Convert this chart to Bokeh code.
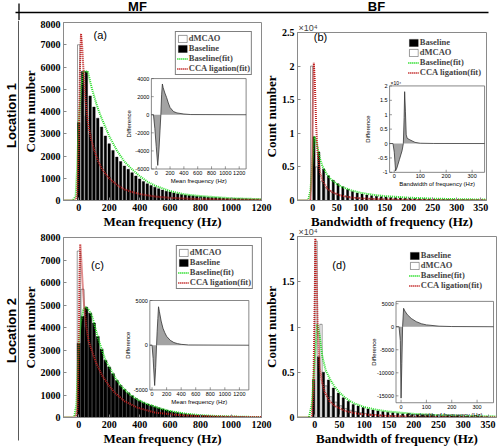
import math
from bokeh.plotting import figure
from bokeh.models import (Range1d, Legend, LegendItem, CustomJSTickFormatter, FixedTicker,
                          ColumnDataSource)
from bokeh.layouts import column, row
from bokeh.transform import dodge
from bokeh.core.properties import value
from bokeh.embed import file_html
from bokeh.resources import INLINE

SERIF = "Liberation Serif"
SANS = "Liberation Sans"
GREEN = "#22dd22"
RED = "#c02020"

# ---------------- data ----------------
mf_bins = list(range(0, 1201, 25))
bf_bins = list(range(0, 351, 10))

a_baseline = [3500, 5800, 5800, 4700, 4200, 3700, 3300, 2900, 2550, 2250, 1950, 1750, 1550, 1400, 1250, 1100,
              970, 850, 750, 670, 600, 530, 470, 420, 380, 340, 300, 270, 250, 230, 210, 195, 180, 165, 150,
              140, 130, 120, 110, 100, 95, 90, 85, 80, 75, 70, 65, 60, 55]
a_dmcao = [7000, 5200, 3800, 3000, 2400, 1900, 1550, 1250, 1050, 880, 750, 640, 550, 480, 420, 370, 330, 290,
           260, 235, 210, 190, 170, 155, 140, 128, 116, 106, 97, 89, 82, 76, 70, 65, 60, 56, 52, 48, 45, 42,
           39, 36, 34, 32, 30, 28, 26, 24, 22]
a_fit_base_x = [-100, -40, -20, -10, 0, 15, 30, 45, 60, 80, 100, 125, 150, 175, 200, 250, 300, 350, 400, 450,
                500, 600, 700, 800, 900, 1000, 1100, 1200]
a_fit_base_y = [0, 0, 200, 1500, 3500, 5000, 5800, 5800, 5800, 5200, 4700, 4150, 3700, 3300, 2900, 2250, 1750,
                1400, 1100, 850, 670, 420, 270, 200, 150, 100, 80, 60]
a_fit_cca_x = [-100, -20, -10, 0, 8, 15, 22, 30, 45, 60, 80, 100, 125, 150, 175, 200, 250, 300, 350, 400, 500,
               600, 800, 1000, 1200]
a_fit_cca_y = [0, 0, 300, 2500, 6000, 7500, 7000, 6000, 4500, 3500, 2800, 2300, 1800, 1450, 1200, 1000, 700,
               500, 380, 290, 180, 120, 60, 40, 30]
a_diff_x = [-70, -40, -20, 0, 22, 40, 55, 67, 78, 89, 100, 125, 150, 175, 200, 250, 300, 400, 500, 1300]
a_diff_y = [0, 0, -1500, -3500, -5600, -3800, -1700, 0, 2200, 3400, 3000, 2400, 1900, 1300, 800, 350, 200, 80,
            20, 0]

b_baseline = [9500, 7200, 4700, 3700, 3000, 2500, 2050, 1650, 1350, 1100, 950, 820, 720, 640, 570, 510, 460,
              420, 380, 350, 320, 290, 270, 250, 230, 210, 195, 180, 170, 160, 150, 140, 130, 120, 110, 100]
b_dmcao = [20000, 5000, 2800, 1900, 1400, 1050, 800, 650, 530, 440, 370, 310, 270, 240, 210, 190, 170, 150,
           135, 120, 110, 100, 90, 80, 75, 70, 65, 60, 55, 50, 45, 42, 40, 38, 35, 30]
b_fit_base_x = [-32, -10, -5, 0, 3, 6, 10, 15, 20, 30, 40, 50, 60, 80, 100, 125, 150, 200, 250, 300, 350, 362]
b_fit_base_y = [0, 0, 1500, 6500, 9500, 9000, 7800, 6200, 5100, 3800, 3000, 2450, 2050, 1500, 1150, 850, 650,
                420, 280, 200, 150, 140]
b_fit_cca_x = [-32, -5, -2, 0, 2, 4, 7, 10, 15, 20, 30, 40, 60, 80, 100, 150, 200, 300, 362]
b_fit_cca_y = [0, 0, 4000, 14000, 20500, 18000, 11000, 7000, 4200, 3000, 1800, 1250, 700, 450, 320, 160, 90,
               40, 30]
b_diff_x = [-18, -5, 0, 5, 10, 20, 30, 35, 38, 40, 43, 46, 50, 60, 80, 100, 150, 348]
b_diff_y = [0, 0, -3000, -9500, -8500, -5500, -2500, 0, 9000, 18000, 11000, 3000, 1800, 1300, 400, 100, 20, 0]

c_baseline = [3300, 4500, 4900, 4650, 4200, 3600, 3050, 2550, 2250, 1950, 1650, 1420, 1250, 1100, 970, 850,
              750, 670, 600, 540, 480, 430, 380, 330, 290, 250, 220, 190, 165, 145, 125, 110, 100, 90, 80, 72,
              65, 58, 52, 47, 42, 38, 34, 30, 27, 24, 22, 20, 18]
c_dmcao = [7400, 5700, 4000, 3200, 2700, 2300, 1950, 1650, 1400, 1180, 1000, 860, 740, 640, 560, 490, 430, 380,
           335, 295, 260, 230, 205, 180, 160, 140, 125, 110, 100, 90, 80, 72, 65, 58, 52, 47, 42, 38, 34, 30,
           27, 24, 22, 20, 18, 16, 15, 14, 13]
c_fit_base_x = [-100, -30, -15, 0, 15, 30, 48, 70, 90, 110, 133, 155, 175, 200, 217, 250, 280, 330, 385, 440,
                490, 540, 596, 700, 806, 900, 1000, 1100, 1200]
c_fit_base_y = [0, 0, 600, 3300, 4300, 4800, 4900, 4750, 4450, 3950, 3400, 2950, 2550, 2250, 2040, 1650, 1380,
                1050, 800, 620, 510, 390, 290, 170, 100, 70, 45, 30, 20]
c_fit_cca_x = [-100, -20, -8, 0, 5, 10, 15, 25, 35, 50, 65, 90, 110, 133, 155, 175, 200, 238, 300, 385, 500,
               650, 800, 1000, 1200]
c_fit_cca_y = [0, 0, 400, 3500, 6500, 7700, 7200, 6000, 5000, 4000, 3400, 2900, 2500, 2150, 1850, 1650, 1400,
               1090, 730, 440, 220, 110, 60, 30, 20]
c_diff_x = [-30, 0, 15, 36, 50, 62, 70, 80, 89, 100, 125, 150, 175, 200, 250, 300, 350, 400, 500, 1330]
c_diff_y = [0, 0, -1500, -4500, -2500, 0, 1500, 3000, 4300, 3800, 2700, 1900, 1400, 1000, 550, 300, 180, 100,
            30, 0]

d_baseline = [4200, 6700, 5000, 4150, 3250, 2700, 2170, 1800, 1450, 1270, 1100, 950, 830, 730, 650, 580, 520,
              470, 420, 380, 340, 310, 280, 255, 235, 215, 200, 185, 170, 160, 150, 140, 130, 120, 110, 100]
d_dmcao = [19500, 10300, 3500, 2300, 1700, 1300, 1000, 800, 650, 540, 450, 380, 320, 280, 240, 210, 185, 165,
           145, 130, 115, 105, 95, 85, 78, 70, 64, 58, 53, 48, 44, 40, 37, 34, 31, 28]
d_fit_base_x = [-35, -12, -6, 0, 5, 10, 15, 22, 31, 40, 50, 60, 70, 80, 100, 125, 150, 200, 250, 300, 367]
d_fit_base_y = [0, 0, 1500, 6500, 10300, 9000, 6800, 5200, 4200, 3400, 2750, 2250, 1850, 1550, 1150, 850, 650,
                400, 260, 180, 120]
d_fit_cca_x = [-35, -6, -3, 0, 1, 3, 6, 10, 15, 20, 30, 40, 60, 80, 100, 150, 200, 300, 367]
d_fit_cca_y = [0, 0, 3000, 14000, 19800, 17000, 9500, 5500, 3800, 2800, 1800, 1300, 750, 480, 330, 160, 90,
               40, 30]
d_diff_x = [-20, -8, -3, 0, 3, 6, 10, 15, 25, 40, 60, 80, 100, 150, 200, 365]
d_diff_y = [0, 0, -3000, -15500, -8000, 0, 4000, 3400, 2600, 1800, 1100, 650, 400, 120, 40, 0]

mf_ticks = [0, 200, 400, 600, 800, 1000, 1200]
bf_ticks = [0, 50, 100, 150, 200, 250, 300, 350]
mf_yticks = [0, 1000, 2000, 3000, 4000, 5000, 6000, 7000, 8000]
b_yticks = [0, 5000, 10000, 15000, 20000, 25000]
d_yticks = [0, 5000, 10000, 15000, 20000]
LEGEND_MF = ["dMCAO", "Baseline", "Baseline(fit)", "CCA ligation(fit)"]
LEGEND_BF = ["Baseline", "dMCAO", "Baseline(fit)", "CCA ligation(fit)"]


def style_axes(p, xlabel, ylabel):
    for ax in (p.xaxis[0], p.yaxis[0]):
        ax.major_label_text_font = SERIF
        ax.major_label_text_font_style = "bold"
        ax.major_label_text_font_size = "10px"
        ax.major_label_text_color = "black"
        ax.axis_label_text_font = SERIF
        ax.axis_label_text_font_style = "bold"
        ax.axis_label_text_font_size = "13px"
        ax.axis_label_text_color = "black"
        ax.major_tick_in = 3
        ax.major_tick_out = 0
        ax.minor_tick_in = 0
        ax.minor_tick_out = 0
        ax.axis_line_color = "#8a8a8a"
        ax.major_tick_line_color = "#8a8a8a"
        ax.major_label_standoff = 3
        ax.axis_label_standoff = 0
    p.xaxis.axis_label = xlabel
    p.yaxis.axis_label = ylabel
    p.grid.visible = False
    p.outline_line_color = "#8a8a8a"


def make_panel(w, h, xr, yr, mb, bins, base, dm, base_off, dm_off, bar_w, gfx, gfy, rfx, rfy,
               order, xticks, yticks, xlabel, tag, tag_xy, leg_margin, leg_border, sci=False,
               margin=None):
    p = figure(width=w, height=h, x_range=Range1d(*xr), y_range=Range1d(*yr),
               title="\u00d710\u2074" if sci else None,
               output_backend="svg", toolbar_location=None, frame_align=False,
               min_border_left=mb[0], min_border_right=mb[1], min_border_top=mb[2],
               min_border_bottom=mb[3])
    if margin is not None:
        p.margin = margin
        p.border_fill_alpha = 0
    if sci:
        p.title.align = "left"
        p.title.offset = 1
        p.title.standoff = 0
        p.title.text_font = SANS
        p.title.text_font_style = "normal"
        p.title.text_font_size = "9px"
    src = ColumnDataSource(dict(x=bins, base=base, dm=dm))
    rw = p.vbar(x=dodge("x", dm_off), top="dm", width=bar_w, source=src,
                fill_color="white", line_color="black", line_width=0.4)
    rb = p.vbar(x=dodge("x", base_off), top="base", width=bar_w, source=src,
                fill_color="black", line_color="black", line_width=0.4)
    rg = p.line(gfx, gfy, line_color=GREEN, line_width=2, line_dash="1 1")
    rr = p.line(rfx, rfy, line_color=RED, line_width=2, line_dash="1 1")
    style_axes(p, xlabel, "Count number")
    p.xaxis.ticker = FixedTicker(ticks=xticks)
    p.yaxis.ticker = FixedTicker(ticks=yticks)
    if sci:
        p.yaxis.formatter = CustomJSTickFormatter(code="return (tick/10000).toString();")
    rmap = {"dMCAO": rw, "Baseline": rb, "Baseline(fit)": rg, "CCA ligation(fit)": rr}
    leg = Legend(items=[LegendItem(label=l, renderers=[rmap[l]]) for l in order],
                 location="top_right", margin=leg_margin, padding=1, spacing=0,
                 border_line_color="black" if leg_border else None, border_line_width=1,
                 background_fill_alpha=1 if leg_border else 0,
                 label_text_font=SERIF, label_text_font_style="bold", label_text_font_size="8.5px",
                 label_height=10, label_standoff=1, glyph_height=9, glyph_width=11)
    p.add_layout(leg)
    p.text(x=[tag_xy[0]], y=[tag_xy[1]], text=[tag], text_font=value(SANS), text_font_size="11px",
           text_align="center", text_baseline="middle")
    return p


def add_inset(p, xt, yt, xs, ys, dx, dy, xticks, xlabels, yticks, ylabels, xlabel, sci=False):
    s = p.subplot(x_source=Range1d(*xs), y_source=Range1d(*ys),
                  x_target=Range1d(*xt), y_target=Range1d(*yt))
    s.quad(left=[xs[0]], right=[xs[1]], bottom=[ys[0]], top=[ys[1]],
           fill_color="white", line_color="#6a6a6a", line_width=0.8)
    s.varea(x=dx, y1=0, y2=dy, fill_color="#a3a3a3")
    s.line(dx, dy, line_color="#333333", line_width=0.8)
    # small inward tick marks (bottom and left edges of the inset box)
    tlen_y = (ys[1] - ys[0]) * 0.03
    tlen_x = (xs[1] - xs[0]) * 0.025
    s.segment(x0=xticks, y0=[ys[0]] * len(xticks), x1=xticks, y1=[ys[0] + tlen_y] * len(xticks),
              line_color="#555555", line_width=0.6)
    s.segment(x0=[xs[0]] * len(yticks), y0=yticks, x1=[xs[0] + tlen_x] * len(yticks), y1=yticks,
              line_color="#555555", line_width=0.6)
    fs = "5.5px"
    s.text(x=xticks, y=[ys[0]] * len(xticks), text=xlabels, y_offset=2, text_align="center",
           text_baseline="top", text_font=value(SANS), text_font_size=fs)
    s.text(x=[xs[0]] * len(yticks), y=yticks, text=ylabels, x_offset=-2, text_align="right",
           text_baseline="middle", text_font=value(SANS), text_font_size=fs)
    s.text(x=[(xs[0] + xs[1]) / 2], y=[ys[0]], text=[xlabel], y_offset=9, text_align="center",
           text_baseline="top", text_font=value(SANS), text_font_size="6px")
    s.text(x=[xs[0]], y=[(ys[0] + ys[1]) / 2], text=["Difference"], x_offset=-19, angle=math.pi / 2,
           text_align="center", text_baseline="bottom", text_font=value(SANS), text_font_size="6px")
    if sci:
        s.text(x=[xs[0]], y=[ys[1]], text=["\u00d710\u2074"], x_offset=1, text_align="left",
               text_baseline="bottom", text_font=value(SANS), text_font_size="5px")
    return s


# ---------------- panels ----------------
pa = make_panel(253, 211, (-100, 1200), (0, 8000), (37, 11, 2, 28), mf_bins, a_baseline, a_dmcao,
                0, 0, 16, a_fit_base_x, a_fit_base_y, a_fit_cca_x, a_fit_cca_y, LEGEND_MF,
                mf_ticks, mf_yticks, "Mean frequency (Hz)", "(a)", (141, 7425), 9, True)
add_inset(pa, (477, 1099), (1416, 5480), (-70, 1300), (-6000, 4000), a_diff_x, a_diff_y,
          mf_ticks, [str(t) for t in mf_ticks], [-6000, -4000, -2000, 0, 2000, 4000],
          ["-6000", "-4000", "-2000", "0", "2000", "4000"], "Mean frequency (Hz)")

pb = make_panel(238, 211, (-32, 362), (0, 25000), (31, 12, 11, 27), bf_bins, b_baseline, b_dmcao,
                2.5, -2.5, 4.5, b_fit_base_x, b_fit_base_y, b_fit_cca_x, b_fit_cca_y, LEGEND_BF,
                bf_ticks, b_yticks, "Bandwidth of frequency (Hz)", "(b)", (16, 24276), 5, False,
                sci=True, margin=(0, 0, 0, -12))
add_inset(pb, (160, 358), (4190, 17050), (-18, 348), (-10000, 20000), b_diff_x, b_diff_y,
          [0, 100, 200, 300], ["0", "100", "200", "300"],
          [-10000, -5000, 0, 5000, 10000, 15000, 20000], ["-1", "-0.5", "0", "0.5", "1", "1.5", "2"],
          "Bandwidth of frequency (Hz)", sci=True)

pc = make_panel(253, 217, (-100, 1200), (0, 8000), (37, 11, 6, 28), mf_bins, c_baseline, c_dmcao,
                0, 0, 20, c_fit_base_x, c_fit_base_y, c_fit_cca_x, c_fit_cca_y, LEGEND_MF,
                mf_ticks, mf_yticks, "Mean frequency (Hz)", "(c)", (123, 6790), 8, True)
add_inset(pc, (467, 1117), (1224, 5200), (-30, 1330), (-5000, 5000), c_diff_x, c_diff_y,
          mf_ticks, [str(t) for t in mf_ticks], [-5000, 0, 5000], ["-5000", "0", "5000"],
          "Mean frequency (Hz)")

pd_ = make_panel(238, 225, (-35, 367), (0, 20000), (30, 2, 13, 28), bf_bins, d_baseline, d_dmcao,
                 -2.5, 2.5, 4.5, d_fit_base_x, d_fit_base_y, d_fit_cca_x, d_fit_cca_y, LEGEND_BF,
                 bf_ticks, d_yticks, "Bandwidth of frequency (Hz)", "(d)", (49, 16880), 14, False,
                 sci=True, margin=(-8, 0, 0, -12))
add_inset(pd_, (164, 361), (1630, 12830), (-20, 365), (-16500, 5500), d_diff_x, d_diff_y,
          [0, 100, 200, 300], ["0", "100", "200", "300"],
          [-15000, -10000, -5000, 0, 5000], ["-15000", "-10000", "-5000", "0", "5000"],
          "Bandwidth of frequency (Hz)")


# ---------------- header & side labels ----------------
def blank(w, h, xr, yr):
    f = figure(width=w, height=h, x_range=Range1d(*xr), y_range=Range1d(*yr), output_backend="svg",
               toolbar_location=None, x_axis_location=None, y_axis_location=None, min_border=0,
               title=None, frame_align=False)
    f.grid.visible = False
    f.outline_line_color = None
    return f


head = blank(498, 20, (0, 498), (0, 20))
head.text(x=[137, 376], y=[14.5, 14.5], text=["MF", "BF"], text_font=value(SANS), text_font_style="bold",
          text_font_size="13px", text_align="center", text_baseline="middle")
head.segment(x0=[15, 18.5], y0=[8, 0], x1=[488, 18.5], y1=[8, 17], line_color="black", line_width=1.3)

side = blank(19, 428, (0, 19), (0, 428))
side.text(x=[11, 11], y=[333, 118], text=["Location 1", "Location 2"], angle=math.pi / 2,
          text_font=value(SANS), text_font_style="bold", text_font_size="13px",
          text_align="center", text_baseline="middle")
side.segment(x0=[18.5], y0=[8], x1=[18.5], y1=[428], line_color="black", line_width=1.3)

layout = column(head, row(side, column(row(pa, pb), row(pc, pd_))))
open("out.html", "w").write(file_html(layout, INLINE))
